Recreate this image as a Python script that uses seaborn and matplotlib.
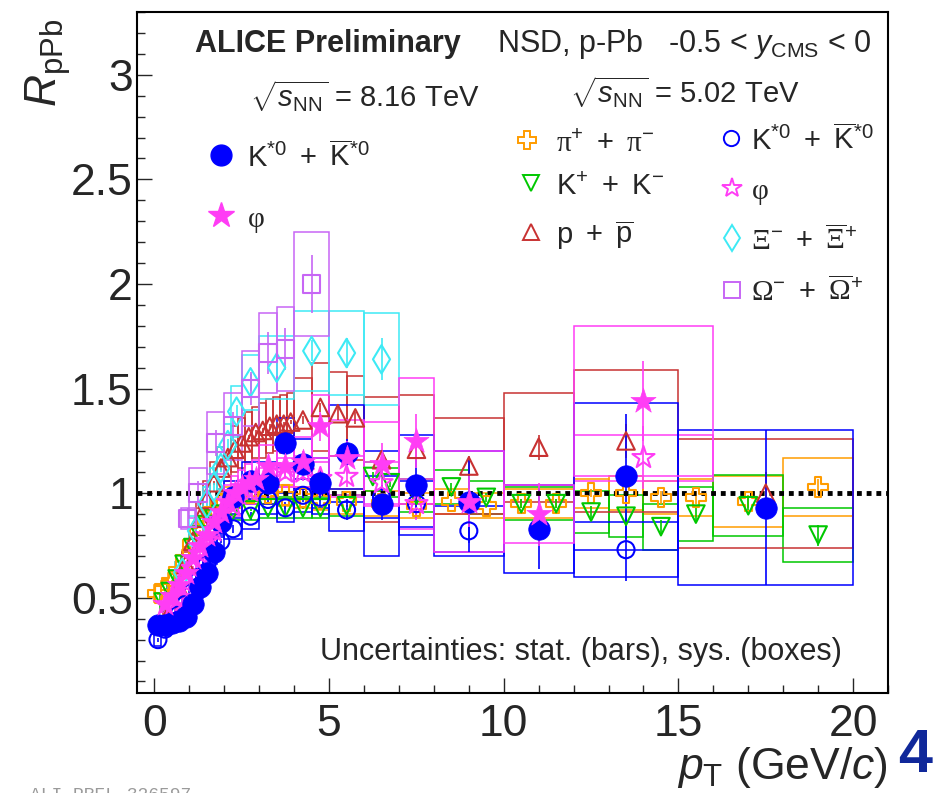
import numpy as np
import pandas as pd
import matplotlib
matplotlib.use("Agg")
import matplotlib.pyplot as plt
from matplotlib.patches import Rectangle
from matplotlib.ticker import MultipleLocator, FuncFormatter
import seaborn as sns

# ---------------- data ----------------
# 8.16 TeV K*0 (filled blue circles)
k8_pt = [0.1, 0.3, 0.5, 0.7, 0.9, 1.1, 1.3, 1.5, 1.7, 1.9, 2.25, 2.75, 3.25, 3.75, 4.25, 4.75, 5.5, 6.5, 7.5, 9.0, 11.0, 13.5, 17.5]
k8_y = [0.37, 0.37, 0.38, 0.39, 0.41, 0.47, 0.55, 0.62, 0.72, 0.86, 0.98, 1.06, 1.05, 1.24, 1.14, 1.05, 1.19, 0.95, 1.04, 0.96, 0.83, 1.08, 0.93]
k8_stat = [0.01, 0.01, 0.01, 0.01, 0.01, 0.01, 0.02, 0.02, 0.02, 0.03, 0.03, 0.03, 0.04, 0.05, 0.05, 0.06, 0.07, 0.08, 0.12, 0.2, 0.19, 0.3, 0.37]
k8_sys = [0.03, 0.03, 0.03, 0.03, 0.04, 0.04, 0.05, 0.05, 0.06, 0.07, 0.08, 0.09, 0.1, 0.12, 0.12, 0.12, 0.23, 0.25, 0.24, 0.24, 0.21, 0.35, 0.37]
k8_dx = [0.1, 0.1, 0.1, 0.1, 0.1, 0.1, 0.1, 0.1, 0.1, 0.1, 0.25, 0.25, 0.25, 0.25, 0.25, 0.25, 0.5, 0.5, 0.5, 1.0, 1.0, 1.5, 2.5]

# 8.16 TeV phi (filled magenta stars)
p8_pt = [0.3, 0.5, 0.7, 0.9, 1.1, 1.3, 1.5, 1.7, 1.9, 2.1, 2.3, 2.5, 2.7, 2.9, 3.25, 3.75, 4.25, 4.75, 5.5, 6.5, 7.5, 9.0, 11.0, 14.0]
p8_y = [0.47, 0.51, 0.56, 0.62, 0.69, 0.75, 0.80, 0.86, 0.91, 0.96, 1.00, 1.03, 1.05, 1.07, 1.13, 1.13, 1.15, 1.32, 1.17, 1.14, 1.25, 0.96, 0.90, 1.44]
p8_stat = [0.01, 0.01, 0.01, 0.01, 0.01, 0.01, 0.02, 0.02, 0.02, 0.02, 0.03, 0.03, 0.03, 0.03, 0.04, 0.05, 0.05, 0.07, 0.08, 0.1, 0.13, 0.12, 0.15, 0.19]
p8_sys = [0.04, 0.04, 0.05, 0.05, 0.05, 0.06, 0.06, 0.07, 0.07, 0.08, 0.08, 0.08, 0.09, 0.09, 0.1, 0.1, 0.12, 0.15, 0.18, 0.2, 0.3, 0.24, 0.14, 0.36]
p8_dx = [0.1] * 14 + [0.25, 0.25, 0.25, 0.25, 0.5, 0.5, 0.5, 1.0, 1.0, 2.0]

# 5.02 TeV pi (open orange crosses)
pi_pt = [0.1, 0.3, 0.5, 0.7, 0.9, 1.1, 1.3, 1.5, 1.7, 1.9, 2.25, 2.75, 3.25, 3.75, 4.25, 4.75, 5.5, 6.5, 7.5, 8.5, 9.5, 10.5, 11.5, 12.5, 13.5, 14.5, 15.5, 17.0, 19.0]
pi_y = [0.52, 0.54, 0.58, 0.63, 0.69, 0.76, 0.82, 0.87, 0.92, 0.95, 0.98, 1.00, 1.00, 0.99, 0.98, 0.97, 0.96, 0.95, 0.94, 0.96, 0.94, 0.95, 0.95, 1.00, 1.00, 0.98, 0.98, 0.96, 1.03]
pi_stat = [0.005] * 16 + [0.01, 0.01, 0.01, 0.01, 0.01, 0.02, 0.02, 0.02, 0.02, 0.03, 0.03, 0.03, 0.04]
pi_sys = [0.04] * 10 + [0.05] * 6 + [0.06, 0.06, 0.06, 0.06, 0.06, 0.07, 0.07, 0.07, 0.08, 0.08, 0.09, 0.12, 0.14]
pi_dx = [0.1] * 10 + [0.25] * 6 + [0.5] * 11 + [1.0, 1.0]

# 5.02 TeV K (open green down triangles)
kc_pt = [0.25, 0.45, 0.65, 0.85, 1.1, 1.3, 1.5, 1.7, 1.9, 2.25, 2.75, 3.25, 3.75, 4.25, 4.75, 5.5, 6.25, 6.75, 7.5, 8.5, 9.5, 10.5, 11.5, 12.5, 13.5, 14.5, 15.5, 17.0, 19.0]
kc_y = [0.48, 0.53, 0.59, 0.66, 0.74, 0.80, 0.85, 0.88, 0.90, 0.92, 0.92, 0.93, 0.93, 0.93, 0.93, 0.94, 1.08, 1.05, 0.99, 1.03, 0.98, 0.95, 0.95, 0.91, 0.89, 0.84, 0.90, 0.94, 0.80]
kc_stat = [0.005] * 16 + [0.02, 0.02, 0.02, 0.02, 0.02, 0.02, 0.02, 0.03, 0.03, 0.03, 0.04, 0.04, 0.05]
kc_sys = [0.04] * 9 + [0.05] * 7 + [0.07, 0.07, 0.08, 0.08, 0.08, 0.08, 0.08, 0.1, 0.1, 0.11, 0.13, 0.145, 0.13]
kc_dx = [0.1] * 9 + [0.25] * 6 + [0.5, 0.25, 0.25, 0.5, 0.5, 0.5, 0.5, 0.5, 0.5, 0.5, 0.5, 0.5, 1.0, 1.0]

# 5.02 TeV p (open red triangles)
pr_pt = [0.35, 0.5, 0.7, 0.9, 1.1, 1.3, 1.5, 1.7, 1.9, 2.1, 2.3, 2.5, 2.7, 2.9, 3.1, 3.3, 3.5, 3.7, 3.9, 4.25, 4.75, 5.25, 5.75, 6.5, 7.5, 9.0, 11.0, 13.5, 17.5]
pr_y = [0.40, 0.45, 0.55, 0.66, 0.77, 0.88, 0.97, 1.05, 1.12, 1.17, 1.21, 1.24, 1.27, 1.29, 1.30, 1.32, 1.33, 1.33, 1.34, 1.35, 1.41, 1.38, 1.36, 1.16, 1.21, 1.13, 1.22, 1.25, 1.00]
pr_stat = [0.01] * 19 + [0.02, 0.02, 0.03, 0.03, 0.04, 0.05, 0.05, 0.06, 0.08, 0.1]
pr_sys = [0.04, 0.04, 0.05, 0.06, 0.07, 0.08, 0.09, 0.1, 0.1, 0.11, 0.11, 0.12, 0.12, 0.12, 0.13, 0.13, 0.13, 0.14, 0.14, 0.2, 0.21, 0.2, 0.2, 0.3, 0.26, 0.23, 0.26, 0.34, 0.26]
pr_dx = [0.1] * 19 + [0.25, 0.25, 0.25, 0.25, 0.5, 0.5, 1.0, 1.0, 1.5, 2.5]

# 5.02 TeV K*0 (open blue circles)
k5_pt = [0.1, 0.3, 0.5, 0.7, 0.9, 1.1, 1.3, 1.5, 1.7, 1.9, 2.25, 2.75, 3.25, 3.75, 4.25, 4.75, 5.5, 6.5, 7.5, 9.0, 13.5]
k5_y = [0.30, 0.35, 0.38, 0.42, 0.47, 0.53, 0.60, 0.66, 0.72, 0.77, 0.83, 0.89, 0.97, 0.93, 0.99, 0.98, 0.92, 0.98, 0.95, 0.82, 0.73]
k5_stat = [0.01] * 10 + [0.02, 0.02, 0.02, 0.03, 0.03, 0.04, 0.05, 0.06, 0.07, 0.1, 0.15]
k5_sys = [0.03] * 10 + [0.05, 0.06, 0.07, 0.07, 0.08, 0.08, 0.1, 0.1, 0.11, 0.12, 0.13]
k5_dx = [0.1] * 10 + [0.25] * 6 + [0.5, 0.5, 0.5, 1.0, 1.5]

# 5.02 TeV phi (open magenta stars)
p5_pt = [0.5, 0.7, 0.9, 1.1, 1.3, 1.5, 1.7, 1.9, 2.25, 2.75, 3.25, 3.75, 4.25, 4.75, 5.5, 6.5, 7.5, 14.0]
p5_y = [0.45, 0.50, 0.57, 0.64, 0.71, 0.77, 0.82, 0.87, 0.94, 1.01, 1.05, 1.10, 1.10, 1.07, 1.08, 1.05, 0.95, 1.17]
p5_stat = [0.01] * 8 + [0.02, 0.02, 0.03, 0.03, 0.04, 0.04, 0.05, 0.06, 0.08, 0.15]
p5_sys = [0.03] * 8 + [0.05, 0.06, 0.07, 0.07, 0.08, 0.08, 0.1, 0.1, 0.12, 0.11]
p5_dx = [0.1] * 8 + [0.25] * 6 + [0.5, 0.5, 0.5, 2.0]

# 5.02 TeV Xi (open cyan diamonds)
xi_pt = [0.8, 1.2, 1.5, 1.7, 1.9, 2.1, 2.35, 2.75, 3.5, 4.5, 5.5, 6.5]
xi_y = [0.62, 0.82, 0.95, 1.03, 1.12, 1.23, 1.39, 1.53, 1.60, 1.68, 1.67, 1.64]
xi_stat = [0.02, 0.02, 0.02, 0.02, 0.02, 0.03, 0.03, 0.04, 0.04, 0.05, 0.07, 0.1]
xi_sys = [0.05, 0.07, 0.08, 0.09, 0.1, 0.1, 0.12, 0.13, 0.15, 0.19, 0.2, 0.22]
xi_dx = [0.2, 0.2, 0.1, 0.1, 0.1, 0.1, 0.15, 0.25, 0.5, 0.5, 0.5, 0.5]

# 5.02 TeV Omega (open violet squares)
om_pt = [0.95, 1.25, 1.75, 2.25, 2.75, 3.25, 3.75, 4.5]
om_y = [0.88, 1.00, 1.24, 1.32, 1.50, 1.67, 1.69, 2.00]
om_stat = [0.05, 0.06, 0.06, 0.07, 0.08, 0.1, 0.1, 0.14]
om_sys = [0.05, 0.12, 0.15, 0.16, 0.18, 0.19, 0.2, 0.25]
om_dx = [0.2, 0.25, 0.25, 0.25, 0.25, 0.25, 0.25, 0.5]

legend_816 = [r"$\mathrm{K}^{*0}\ +\ \overline{\mathrm{K}}^{*0}$", r"$\mathsf{\varphi}$"]
legend_502_a = [r"$\mathsf{\pi}^{+}\ +\ \mathsf{\pi}^{-}$", r"$\mathrm{K}^{+}\ +\ \mathrm{K}^{-}$",
                r"$\mathrm{p}\ +\ \overline{\mathrm{p}}$"]
legend_502_b = [r"$\mathrm{K}^{*0}\ +\ \overline{\mathrm{K}}^{*0}$", r"$\mathsf{\varphi}$",
                r"$\mathsf{\Xi}^{-}\ +\ \overline{\mathsf{\Xi}}^{+}$",
                r"$\mathsf{\Omega}^{-}\ +\ \overline{\mathsf{\Omega}}^{+}$"]

# ---------------- style ----------------
sns.set_style("white")
plt.rcParams["font.family"] = ["Liberation Sans", "DejaVu Sans"]
plt.rcParams["mathtext.fontset"] = "custom"
plt.rcParams["mathtext.rm"] = "Liberation Sans"
plt.rcParams["mathtext.it"] = "Liberation Sans:italic"
plt.rcParams["mathtext.bf"] = "Liberation Sans:bold"
plt.rcParams["mathtext.sf"] = "Liberation Serif"

BLUE = "#0000ff"
MAGENTA = "#ff3df5"
ORANGE = "#ff9c00"
GREEN = "#00c800"
RED = "#c83232"
CYAN = "#3deaf5"
VIOLET = "#c766f5"

fig = plt.figure(figsize=(9.52, 7.93), dpi=100)
ax = fig.add_axes([137 / 952, 1 - 693 / 793, 751 / 952, 681 / 793])

series = [
    dict(pt=pi_pt, y=pi_y, st=pi_stat, sy=pi_sys, dx=pi_dx, c=ORANGE, m="P", s=200, filled=False, z=3.0),
    dict(pt=kc_pt, y=kc_y, st=kc_stat, sy=kc_sys, dx=kc_dx, c=GREEN, m="v", s=160, filled=False, z=3.0),
    dict(pt=pr_pt, y=pr_y, st=pr_stat, sy=pr_sys, dx=pr_dx, c=RED, m="^", s=160, filled=False, z=3.0),
    dict(pt=k5_pt, y=k5_y, st=k5_stat, sy=k5_sys, dx=k5_dx, c=BLUE, m="o", s=150, filled=False, z=3.0),
    dict(pt=p5_pt, y=p5_y, st=p5_stat, sy=p5_sys, dx=p5_dx, c=MAGENTA, m="*", s=280, filled=False, z=3.0),
    dict(pt=xi_pt, y=xi_y, st=xi_stat, sy=xi_sys, dx=xi_dx, c=CYAN, m="d", s=210, filled=False, z=3.0),
    dict(pt=om_pt, y=om_y, st=om_stat, sy=om_sys, dx=om_dx, c=VIOLET, m="s", s=160, filled=False, z=3.0),
    dict(pt=k8_pt, y=k8_y, st=k8_stat, sy=k8_sys, dx=k8_dx, c=BLUE, m="o", s=240, filled=True, z=3.5),
    dict(pt=p8_pt, y=p8_y, st=p8_stat, sy=p8_sys, dx=p8_dx, c=MAGENTA, m="*", s=360, filled=True, z=3.6),
]

for sr in series:
    for xv, yv, sv, dv in zip(sr["pt"], sr["y"], sr["sy"], sr["dx"]):
        ax.add_patch(Rectangle((xv - dv, yv - sv), 2 * dv, 2 * sv, fill=False,
                               edgecolor=sr["c"], linewidth=1.1, zorder=2.0))
    ax.errorbar(sr["pt"], sr["y"], yerr=sr["st"], fmt="none", ecolor=sr["c"],
                elinewidth=1.2, capsize=0, zorder=2.2)
    df = pd.DataFrame({"pT": sr["pt"], "R": sr["y"]})
    sns.scatterplot(data=df, x="pT", y="R", ax=ax, marker=sr["m"], s=sr["s"],
                    facecolor=sr["c"] if sr["filled"] else "none",
                    edgecolor=sr["c"], linewidth=0.5 if sr["filled"] else 1.5,
                    zorder=sr["z"], legend=False)

ax.axhline(1.0, color="black", linestyle=(0, (1, 1)), linewidth=3.5, zorder=2.5)

ax.set_xlim(-0.5, 21.0)
ax.set_ylim(0.045, 3.3)
ax.xaxis.set_major_locator(MultipleLocator(5))
ax.xaxis.set_minor_locator(MultipleLocator(1))
ax.yaxis.set_major_locator(MultipleLocator(0.5))
ax.yaxis.set_minor_locator(MultipleLocator(0.1))
fmt = FuncFormatter(lambda v, p: f"{v:g}")
ax.xaxis.set_major_formatter(fmt)
ax.yaxis.set_major_formatter(fmt)
ax.tick_params(which="major", direction="in", length=11, width=1.0, labelsize=32,
               top=False, right=False, left=True, bottom=True)
ax.tick_params(axis="y", which="major", pad=3)
ax.tick_params(axis="x", which="major", pad=8)
ax.tick_params(which="minor", direction="in", length=6, width=1.0, top=False, right=False,
               left=True, bottom=True)
for sp in ax.spines.values():
    sp.set_linewidth(1.5)
    sp.set_color("black")

ax.set_xlabel(r"$p_{\mathrm{T}}$ (GeV/$c$)", fontsize=32, loc="right")
ax.xaxis.set_label_coords(1.0, -0.076)
ax.xaxis.label.set_va("top")
ax.set_ylabel(r"$R_{\mathrm{pPb}}$", fontsize=32, loc="top")
ax.yaxis.set_label_coords(-0.085, 0.99)

T = ax.transAxes
ax.text(0.077, 0.941, "ALICE Preliminary", transform=T, fontsize=22, fontweight="bold", va="baseline")
ax.text(0.479, 0.941, r"NSD, p-Pb   -0.5 < $y_{\mathrm{CMS}}$ < 0", transform=T, fontsize=22, va="baseline")
ax.text(0.150, 0.860, r"$\sqrt{s_{\mathrm{NN}}}$ = 8.16 TeV", transform=T, fontsize=21, va="baseline")
ax.text(0.577, 0.866, r"$\sqrt{s_{\mathrm{NN}}}$ = 5.02 TeV", transform=T, fontsize=21, va="baseline")
ax.text(0.244, 0.048, "Uncertainties: stat. (bars), sys. (boxes)", transform=T, fontsize=22, va="baseline")

# legend 8.16
leg816 = [(0.112, 0.790, BLUE, "o", 15, True), (0.112, 0.702, MAGENTA, "*", 19, True)]
for (lx, ly, c, m, ms, f), lab in zip(leg816, legend_816):
    ax.plot([lx], [ly], transform=T, marker=m, ms=ms, color=c, mfc=c if f else "none", mec=c,
            linestyle="none", clip_on=False)
    ax.text(lx + 0.034, ly - 0.017, lab, transform=T, fontsize=21, va="baseline")

lega = [(0.519, 0.812, ORANGE, "P", 13), (0.524, 0.749, GREEN, "v", 12), (0.524, 0.677, RED, "^", 12)]
for (lx, ly, c, m, ms), lab in zip(lega, legend_502_a):
    ax.plot([lx], [ly], transform=T, marker=m, ms=ms, color=c, mfc="none", mec=c, mew=1.4,
            linestyle="none", clip_on=False)
    ax.text(0.558, ly - 0.017, lab, transform=T, fontsize=21, va="baseline")

legb = [(0.791, 0.815, BLUE, "o", 11), (0.792, 0.742, MAGENTA, "*", 15),
        (0.792, 0.668, CYAN, "d", 13), (0.792, 0.592, VIOLET, "s", 11)]
for (lx, ly, c, m, ms), lab in zip(legb, legend_502_b):
    ax.plot([lx], [ly], transform=T, marker=m, ms=ms, color=c, mfc="none", mec=c, mew=1.4,
            linestyle="none", clip_on=False)
    ax.text(0.818, ly - 0.017, lab, transform=T, fontsize=21, va="baseline")

fig.text(898 / 952, 1 - 772 / 793, "4", fontsize=44, fontweight="bold", color="#10289a", va="baseline")
fig.text(30 / 952, -7 / 793, "ALI-PREL-326597", fontsize=13, family="Liberation Mono", color="#9a9a9a",
         va="baseline")

fig.savefig("out.png", dpi=100)
